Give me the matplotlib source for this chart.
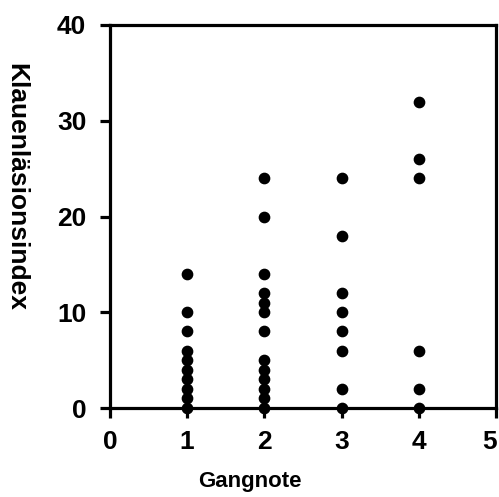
import matplotlib
matplotlib.use("Agg")
import matplotlib.pyplot as plt
import matplotlib.transforms as mtransforms

plt.rcParams['font.family'] = ['Liberation Sans', 'DejaVu Sans']
plt.rcParams['font.weight'] = 'bold'

# Gangnote (gait score) and Klauenläsionsindex values
gang_1 = [0, 1, 2, 3, 4, 5, 6, 8, 10, 14]
gang_2 = [0, 1, 2, 3, 4, 5, 8, 10, 11, 12, 14, 20, 24]
gang_3 = [0, 2, 6, 8, 10, 12, 18, 24]
gang_4 = [0, 2, 6, 24, 26, 32]

x_ticks = [0, 1, 2, 3, 4, 5]
y_ticks = [0, 10, 20, 30, 40]

fig = plt.figure(figsize=(4.99, 4.97), dpi=100)
ax = fig.add_axes([0.2204, 0.179, 0.7736, 0.7707])

for score, values in zip([1, 2, 3, 4], [gang_1, gang_2, gang_3, gang_4]):
    ax.scatter([score] * len(values), values, s=55, color='black', zorder=3, clip_on=False)

ax.set_xlim(0, 5)
ax.set_ylim(0, 40)
ax.set_xticks(x_ticks)
ax.set_yticks(y_ticks)
for s in ax.spines.values():
    s.set_linewidth(2.3)
ax.tick_params(direction='out', length=7, width=2.3, labelsize=19)
ax.tick_params(axis='x', pad=9)
ax.tick_params(axis='y', pad=10)

# last x tick label nudged left so it stays inside the picture
last = ax.get_xticklabels()[-1]
last.set_transform(last.get_transform() + mtransforms.ScaledTranslation(-6 / 100, 0, fig.dpi_scale_trans))

fig.text(250 / 499, 1 - 487 / 497, 'Gangnote', fontsize=16, fontweight='bold',
         ha='center', va='baseline')
fig.text(16 / 499, 0.624, 'Klauenläsionsindex', fontsize=19, fontweight='bold',
         rotation=-90, ha='center', va='center')

fig.savefig('out.png', dpi=100)
